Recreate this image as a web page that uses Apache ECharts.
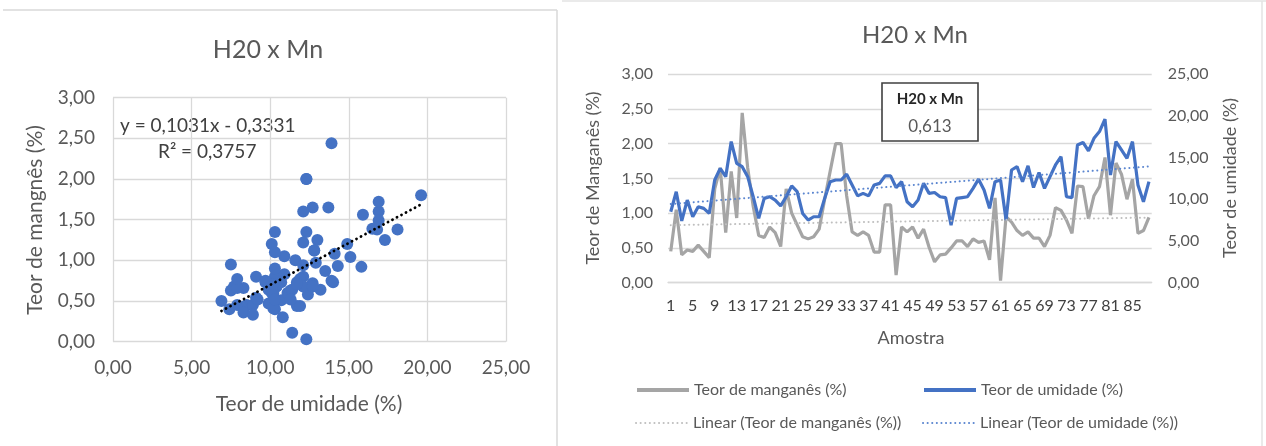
<!DOCTYPE html>
<html>
<head>
<meta charset="utf-8">
<script src="https://cdn.jsdelivr.net/npm/echarts@6/dist/echarts.min.js"></script>
<style>
html,body{margin:0;padding:0;background:#fff;}
#c{width:1266px;height:446px;}
</style>
</head>
<body>
<div id="c"></div>
<script>
// ---- data (88 samples) ----
const mangNames = ['Teor de manganês (%)', 'Teor de umidade (%)', 'Linear (Teor de manganês (%))', 'Linear (Teor de umidade (%))'];
const mn = [0.45,1.05,0.40,0.47,0.45,0.54,0.45,0.36,1.35,1.65,
            0.72,1.60,0.93,2.44,1.65,1.10,0.68,0.65,0.80,0.72,
            0.52,1.35,1.00,0.83,0.66,0.63,0.66,0.77,1.20,1.60,
            2.00,2.00,1.25,0.73,0.68,0.73,0.68,0.44,0.44,1.12,
            1.12,0.11,0.80,0.73,0.80,0.64,0.77,0.51,0.30,0.40,
            0.41,0.50,0.60,0.60,0.52,0.63,0.58,0.60,0.33,1.22,
            0.03,0.95,0.87,0.75,0.68,0.73,0.64,0.64,0.52,0.68,
            1.08,1.04,0.90,0.71,1.39,1.38,0.92,1.25,1.38,1.80,
            0.97,1.72,1.56,1.20,1.49,0.71,0.75,0.94];
const h2o = [8.5,10.9,7.4,9.9,7.9,9.1,8.9,8.3,12.3,13.7,
             12.7,16.9,14.3,13.9,12.7,10.3,7.7,10.1,10.3,9.9,
             9.2,10.3,11.6,10.9,8.3,7.5,7.9,7.9,10.1,12.1,
             12.3,12.3,13.0,11.7,10.4,10.7,10.4,11.7,11.9,12.8,
             12.8,11.4,12.1,9.7,9.1,9.9,11.9,10.7,10.8,10.3,
             10.2,6.9,10.1,10.2,10.3,11.3,12.4,11.1,8.9,12.1,
             12.3,7.5,13.5,13.9,12.1,14.0,11.4,13.2,11.3,12.7,
             14.1,15.1,10.3,10.2,16.5,16.8,15.8,17.3,18.1,19.6,
             12.9,16.9,15.9,14.9,16.9,11.7,9.7,12.1];
const categories = mn.map((_, i) => String(i + 1));
const trendSlope = 0.1031, trendIntercept = -0.3331;
const eqText = 'y = 0,1031x - 0,3331';
const r2Text = 'R² = 0,3757';
const corrLabel = 'H20 x Mn';
const corrValue = '0,613';
const titleText = 'H20 x Mn';

// ---- derived ----
function linfit(arr){
  const n = arr.length; let sx=0, sy=0, sxx=0, sxy=0;
  arr.forEach((y,i)=>{const x=i+1; sx+=x; sy+=y; sxx+=x*x; sxy+=x*y;});
  const b=(n*sxy-sx*sy)/(n*sxx-sx*sx), a=(sy-b*sx)/n;
  return arr.map((_,i)=>+(a+b*(i+1)).toFixed(4));
}
const mnTrend = linfit(mn), h2oTrend = linfit(h2o);
const scatterData = h2o.map((x,i)=>[x, mn[i]]);
const xMin = Math.min(...h2o), xMax = Math.max(...h2o);
const scatterTrend = [[xMin, trendSlope*xMin+trendIntercept],[xMax, trendSlope*xMax+trendIntercept]];

const FF = 'Lato, "Noto Sans", sans-serif';
const fmt = v => v.toFixed(2).replace('.', ',');
const gridColor = '#d9d9d9';
const txt = '#595959';

const chart = echarts.init(document.getElementById('c'), null, {renderer:'canvas'});
function legendAt(name, left, top, lw){
  return {data:[name], left:left, top:top, padding:0, itemWidth:52, itemHeight:12,
          itemStyle:{opacity:0}, lineStyle:{width:lw},
          textStyle:{fontSize:16, color:txt, fontFamily:FF}, selectedMode:false};
}
const option = {
  animation:false,
  textStyle:{fontFamily:FF},
  grid:[
    {left:113, top:97.7, width:393, height:244, containLabel:false},
    {left:668, top:74, width:483.7, height:208.7, containLabel:false}
  ],
  xAxis:[
    {type:'value', gridIndex:0, min:0, max:25, interval:5,
     axisLine:{show:false}, axisTick:{show:false},
     splitLine:{show:true, lineStyle:{color:gridColor, width:1.3}},
     axisLabel:{formatter:fmt, color:txt, fontSize:19, margin:17, fontFamily:FF}},
    {type:'category', gridIndex:1, data:categories, boundaryGap:true,
     axisLine:{show:true, lineStyle:{color:gridColor, width:1.3}}, axisTick:{show:false},
     axisLabel:{interval:3, color:'#404040', fontSize:16, margin:15, fontFamily:FF}}
  ],
  yAxis:[
    {type:'value', gridIndex:0, min:0, max:3, interval:0.5,
     axisLine:{show:false}, axisTick:{show:false},
     splitLine:{show:true, lineStyle:{color:gridColor, width:1.3}},
     axisLabel:{formatter:fmt, color:txt, fontSize:19, margin:18, fontFamily:FF}},
    {type:'value', gridIndex:1, position:'left', min:0, max:3, interval:0.5,
     axisLine:{show:false}, axisTick:{show:false},
     splitLine:{show:true, lineStyle:{color:gridColor, width:1.3}},
     axisLabel:{formatter:fmt, color:txt, fontSize:16, margin:15, fontFamily:FF}},
    {type:'value', gridIndex:1, position:'right', min:0, max:25, interval:5,
     axisLine:{show:false}, axisTick:{show:false}, splitLine:{show:false},
     axisLabel:{formatter:fmt, color:txt, fontSize:16, margin:16, fontFamily:FF}}
  ],
  legend:[
    legendAt(mangNames[0], 635, 382, 4),
    legendAt(mangNames[1], 922, 382, 4),
    legendAt(mangNames[2], 635, 415, 2),
    legendAt(mangNames[3], 922, 415, 2)
  ],
  series:[
    {type:'scatter', xAxisIndex:0, yAxisIndex:0, data:scatterData, symbolSize:12,
     itemStyle:{color:'#4472C4', opacity:1}, z:2},
    {type:'line', xAxisIndex:0, yAxisIndex:0, data:scatterTrend, symbol:'none',
     lineStyle:{color:'#000', width:2.8, type:[0.1,5], cap:'round'}, z:3},
    {name:mangNames[0], type:'line', xAxisIndex:1, yAxisIndex:1, data:mn, symbol:'none',
     lineStyle:{color:'#A5A5A5', width:3.2}, itemStyle:{color:'#A5A5A5'}, z:2},
    {name:mangNames[1], type:'line', xAxisIndex:1, yAxisIndex:2, data:h2o, symbol:'none',
     lineStyle:{color:'#4472C4', width:3.2}, itemStyle:{color:'#4472C4'}, z:3},
    {name:mangNames[2], type:'line', xAxisIndex:1, yAxisIndex:1, data:mnTrend, symbol:'none',
     lineStyle:{color:'#BFBFBF', width:2, type:[0.1,4.5], cap:'round'}, itemStyle:{color:'#BFBFBF'}, z:4},
    {name:mangNames[3], type:'line', xAxisIndex:1, yAxisIndex:2, data:h2oTrend, symbol:'none',
     lineStyle:{color:'#5B86D0', width:2, type:[0.1,4.5], cap:'round'}, itemStyle:{color:'#5B86D0'}, z:4}
  ],
  graphic:[
    {type:'line', shape:{x1:3,y1:10,x2:557,y2:10}, style:{stroke:'#d9d9d9', lineWidth:1.5}, silent:true},
    {type:'line', shape:{x1:557,y1:10,x2:557,y2:446}, style:{stroke:'#d9d9d9', lineWidth:1.5}, silent:true},
    {type:'line', shape:{x1:562,y1:1,x2:1266,y2:1}, style:{stroke:'#e3e3e3', lineWidth:1.5}, silent:true},
    {type:'line', shape:{x1:1262,y1:1,x2:1262,y2:446}, style:{stroke:'#e3e3e3', lineWidth:1.5}, silent:true},
    {type:'text', x:268, y:50, style:{text:titleText, fontSize:25, fill:txt, fontFamily:FF, textAlign:'center', textVerticalAlign:'middle'}},
    {type:'text', x:915, y:35, style:{text:titleText, fontSize:24, fill:txt, fontFamily:FF, textAlign:'center', textVerticalAlign:'middle'}},
    {type:'text', x:309, y:404, style:{text:'Teor de umidade (%)', fontSize:21, fill:txt, fontFamily:FF, textAlign:'center', textVerticalAlign:'middle'}},
    {type:'text', x:35, y:220, rotation:Math.PI/2, style:{text:'Teor de mangnês (%)', fontSize:21, fill:txt, fontFamily:FF, textAlign:'center', textVerticalAlign:'middle'}},
    {type:'text', x:911, y:338, style:{text:'Amostra', fontSize:18, fill:txt, fontFamily:FF, textAlign:'center', textVerticalAlign:'middle'}},
    {type:'text', x:593, y:178, rotation:Math.PI/2, style:{text:'Teor de Manganês (%)', fontSize:18, fill:txt, fontFamily:FF, textAlign:'center', textVerticalAlign:'middle'}},
    {type:'text', x:1230, y:178, rotation:Math.PI/2, style:{text:'Teor de umidade (%)', fontSize:18, fill:txt, fontFamily:FF, textAlign:'center', textVerticalAlign:'middle'}},
    {type:'text', x:120, y:126, style:{text:eqText, fontSize:19, fill:'#404040', fontFamily:FF, textAlign:'left', textVerticalAlign:'middle'}},
    {type:'text', x:158, y:152, style:{text:r2Text, fontSize:19, fill:'#404040', fontFamily:FF, textAlign:'left', textVerticalAlign:'middle'}},
    {type:'rect', shape:{x:882, y:83, width:96, height:58}, style:{fill:'#fff', stroke:'#404040', lineWidth:1.6}, z:10},
    {type:'text', x:930, y:99, z:11, style:{text:corrLabel, fontSize:15, fontWeight:'bold', fill:'#262626', fontFamily:FF, textAlign:'center', textVerticalAlign:'middle'}},
    {type:'text', x:930, y:127, z:11, style:{text:corrValue, fontSize:17, fill:txt, fontFamily:FF, textAlign:'center', textVerticalAlign:'middle'}}
  ]
};
chart.setOption(option);
</script>
</body>
</html>
